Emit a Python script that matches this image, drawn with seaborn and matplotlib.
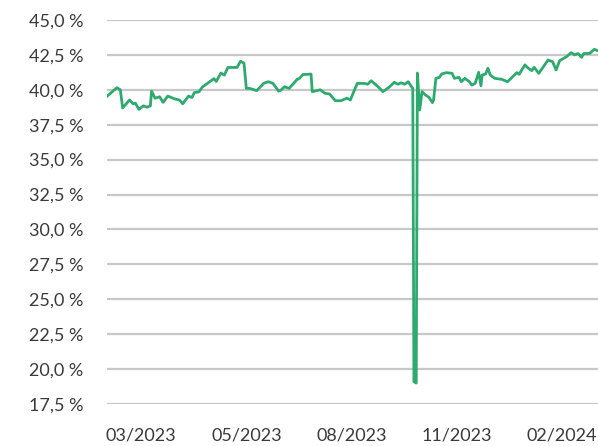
import pandas as pd
import matplotlib
matplotlib.use('Agg')
import matplotlib.pyplot as plt
import matplotlib.ticker as mticker
import seaborn as sns

# values (share in %)
dates = [
    '2023-01-30', '2023-02-08', '2023-02-11', '2023-02-13', '2023-02-19', '2023-02-22', '2023-02-24',
    '2023-02-27', '2023-03-03', '2023-03-06', '2023-03-09', '2023-03-10', '2023-03-13', '2023-03-17',
    '2023-03-20', '2023-03-24', '2023-03-30', '2023-04-03', '2023-04-06', '2023-04-11', '2023-04-14',
    '2023-04-16', '2023-04-20', '2023-04-23', '2023-04-28', '2023-05-03', '2023-05-05', '2023-05-09',
    '2023-05-12', '2023-05-15', '2023-05-23', '2023-05-26', '2023-05-29', '2023-05-31', '2023-06-03',
    '2023-06-09', '2023-06-15', '2023-06-19', '2023-06-23', '2023-06-28', '2023-06-30', '2023-07-03',
    '2023-07-07', '2023-07-14', '2023-07-16', '2023-07-19', '2023-07-22', '2023-07-26', '2023-07-27',
    '2023-08-03', '2023-08-07', '2023-08-11', '2023-08-16', '2023-08-21', '2023-08-26', '2023-08-29',
    '2023-09-01', '2023-09-04', '2023-09-10', '2023-09-13', '2023-09-16', '2023-09-22', '2023-09-26',
    '2023-09-29', '2023-10-02', '2023-10-06', '2023-10-09', '2023-10-12', '2023-10-15', '2023-10-18',
    '2023-10-21', '2023-10-22', '2023-10-23', '2023-10-25', '2023-10-26', '2023-10-28', '2023-10-30',
    '2023-11-02', '2023-11-05', '2023-11-08', '2023-11-09', '2023-11-11', '2023-11-14', '2023-11-16',
    '2023-11-20', '2023-11-25', '2023-11-27', '2023-12-01', '2023-12-03', '2023-12-06', '2023-12-10',
    '2023-12-12', '2023-12-15', '2023-12-18', '2023-12-20', '2023-12-21', '2023-12-24', '2023-12-26',
    '2023-12-28', '2024-01-01', '2024-01-07', '2024-01-12', '2024-01-15', '2024-01-20', '2024-01-22',
    '2024-01-27', '2024-01-30', '2024-02-02', '2024-02-04', '2024-02-08', '2024-02-12', '2024-02-16',
    '2024-02-20', '2024-02-23', '2024-02-26', '2024-03-03', '2024-03-07', '2024-03-10', '2024-03-13',
    '2024-03-16', '2024-03-18', '2024-03-23', '2024-03-27', '2024-03-30',
]
share = [
    39.5, 40.15, 40.0, 38.7, 39.27, 39.0, 39.05,
    38.6, 38.85, 38.75, 38.85, 39.9, 39.4, 39.5,
    39.1, 39.55, 39.35, 39.27, 39.0, 39.55, 39.45,
    39.8, 39.85, 40.2, 40.5, 40.8, 40.6, 41.2,
    41.05, 41.6, 41.6, 42.05, 41.9, 40.1, 40.1,
    39.94, 40.46, 40.58, 40.46, 39.9, 39.98, 40.22,
    40.1, 40.75, 40.82, 41.1, 41.1, 41.13, 39.87,
    40.0, 39.75, 39.7, 39.22, 39.22, 39.4, 39.27,
    39.87, 40.46, 40.46, 40.4, 40.65, 40.22, 39.87,
    40.03, 40.22, 40.54, 40.4, 40.5, 40.4, 40.58,
    40.22, 40.1, 19.1, 19.0, 41.2, 38.55, 39.87,
    39.63, 39.46, 39.08, 39.27, 40.82, 40.89, 41.13,
    41.23, 41.18, 40.82, 40.89, 40.58, 40.82, 40.58,
    40.34, 40.46, 41.25, 40.29, 41.06, 41.13, 41.54,
    41.06, 40.82, 40.75, 40.58, 40.82, 41.23, 41.11,
    41.78, 41.54, 41.37, 41.61, 41.18, 41.65, 42.13,
    42.01, 41.42, 42.08, 42.37, 42.66, 42.5, 42.6,
    42.32, 42.6, 42.6, 42.9, 42.8,
]
tick_dates = ['2023-03-01', '2023-05-31', '2023-08-30', '2023-11-29', '2024-02-28']
tick_labels = ['03/2023', '05/2023', '08/2023', '11/2023', '02/2024']
y_ticks = [17.5, 20.0, 22.5, 25.0, 27.5, 30.0, 32.5, 35.0, 37.5, 40.0, 42.5, 45.0]

df = pd.DataFrame({'date': pd.to_datetime(dates), 'share': share})

sns.set_style('white')
plt.rcParams['font.family'] = ['Lato', 'DejaVu Sans']

fig = plt.figure(figsize=(5.98, 4.46), dpi=100)
ax = fig.add_axes([0.179, 0.0942, 0.821, 0.861])

sns.lineplot(data=df, x='date', y='share', ax=ax, color='#2eaa6e', linewidth=2.0, zorder=3)

ax.set_ylim(17.5, 45)
ax.set_yticks(y_ticks)
ax.yaxis.set_major_formatter(mticker.FuncFormatter(lambda v, p: f'{v:.1f} %'.replace('.', ',')))
ax.set_xlim(pd.Timestamp('2023-01-30 12:00'), pd.Timestamp('2024-03-30 06:00'))
ax.set_xticks(pd.to_datetime(tick_dates))
ax.set_xticklabels(tick_labels)

ax.grid(axis='y', color='#c8c8c8', linewidth=1.6)
ax.grid(axis='x', visible=False)
for s in ax.spines.values():
    s.set_visible(False)
ax.tick_params(axis='both', length=0, labelsize=13, colors='#3a3a3a')
ax.tick_params(axis='y', pad=17)
ax.tick_params(axis='x', pad=17)
ax.set_xlabel('')
ax.set_ylabel('')

fig.savefig('out.png', dpi=100)
